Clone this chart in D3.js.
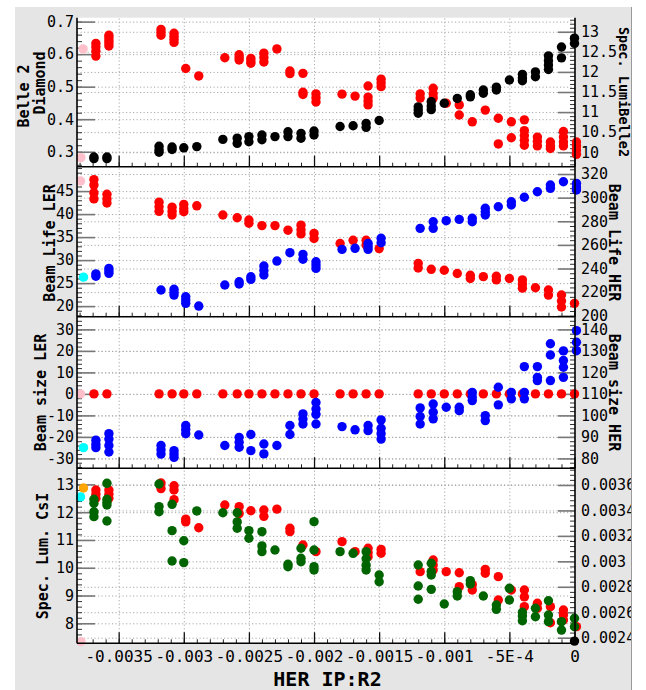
<!DOCTYPE html>
<html>
<head>
<meta charset="utf-8">
<script src="https://cdn.jsdelivr.net/npm/d3@7/dist/d3.min.js"></script>
<style>
  html, body { margin: 0; padding: 0; background: #ffffff; }
  svg { display: block; }
</style>
</head>
<body>
<svg id="chart" width="646" height="690"></svg>
<script>
// ---------------- data ----------------
// HER IP:R2 sample positions (two readouts, slightly offset)
const herPosA = [-0.00369, -0.00359, -0.00319, -0.00309, -0.00300, -0.00290, -0.00270, -0.00259,
  -0.00250, -0.00240, -0.00230, -0.00220, -0.00210, -0.00200, -0.00180, -0.00170, -0.00160,
  -0.00150, -0.00120, -0.00110, -0.00100, -0.00090, -0.00080, -0.00070, -0.00060, -0.00050,
  -0.00040, -0.00030, -0.00020, -0.00010, 0];
const herPosB = [-0.003675, -0.003575, -0.003175, -0.003075, -0.002985, -0.002885, -0.002685, -0.002575,
  -0.002485, -0.002385, -0.002285, -0.002185, -0.002085, -0.001985, -0.001785, -0.001685, -0.001585,
  -0.001485, -0.001185, -0.001085, -0.000985, -0.000885, -0.000785, -0.000685, -0.000585, -0.000485,
  -0.000385, -0.000285, -0.000185, -0.000085, 0.000015];

const herTicks = [-0.0035, -0.003, -0.0025, -0.002, -0.0015, -0.001, -0.0005, 0];
const herTickLabels = ["-0.0035", "-0.003", "-0.0025", "-0.002", "-0.0015", "-0.001", "-5E-4", "0"];

// Belle 2 Diamond (left) / Spec. LumiBelle2 (right)
const diamondVals = [
  [0.633, 0.622, 0.609, 0.594], [0.658, 0.650, 0.642, 0.634, 0.625], [0.676, 0.667, 0.658],
  [0.664, 0.655, 0.646, 0.636], [0.556], [0.533], [0.589], [0.598, 0.590, 0.582], [0.587, 0.579, 0.572],
  [0.603, 0.590, 0.576], [0.616], [0.548, 0.540], [0.541, 0.483, 0.476], [0.478, 0.466, 0.453],
  [0.477], [0.471], [0.502, 0.468, 0.456, 0.444], [0.523, 0.512, 0.500], [0.478, 0.465],
  [0.495, 0.478, 0.465], [0.449], [0.444, 0.413], [0.392], [0.428], [0.403, 0.324], [0.392, 0.343],
  [0.398, 0.365, 0.350, 0.335, 0.320], [0.345, 0.332, 0.318], [0.330, 0.318, 0.310],
  [0.362, 0.345, 0.330, 0.318], [0.330, 0.318, 0.305, 0.292]];
const lumiBelle2Vals = [
  [9.88, 9.84], [9.88, 9.84], [10.15, 10.06, 10.0], [10.13, 10.07], [10.11], [10.14], [10.32],
  [10.35, 10.22], [10.39, 10.26], [10.43, 10.31], [10.39], [10.51, 10.39], [10.47, 10.35],
  [10.53, 10.43], [10.64], [10.66], [10.72, 10.62], [10.79], [11.13, 11.05, 10.97],
  [11.26, 11.15, 11.06], [11.22], [11.34], [11.43, 11.38], [11.55, 11.47], [11.62, 11.55], [11.80],
  [11.94, 11.85, 11.78], [12.0, 11.88], [12.40, 12.28, 12.17, 12.06], [12.62, 12.35], [12.84, 12.71]];

// Beam Life LER (left) / Beam Life HER (right)
const lifeLerVals = [
  [47.5, 46.3, 44.6, 43.3], [44.3, 43.3, 42.4], [42.6, 41.6, 40.6], [41.5, 40.6, 39.8],
  [42.1, 41.2, 40.5], [41.8], [39.8], [39.2], [38.7, 38.0], [37.5], [37.5], [36.5],
  [37.6, 36.6, 35.7], [35.8, 34.7], [33.6], [34.3], [34.3, 33.3], [32.5], [29.3, 28.3], [28.0],
  [27.8], [27.1], [26.7, 26.0], [26.4], [26.5, 25.7], [26.0], [25.7, 24.8, 23.9], [24.0],
  [23.5, 22.4], [22.4, 21.1, 19.8], [20.6]];
const lifeHerVals = [
  [235.5, 233.5], [240.1, 238.0, 235.9], [221.8], [222.4, 219.9, 217.5], [216.1, 213.3, 210.5],
  [208.2], [226.0], [228.8, 226.9], [233.0, 230.8], [242.1, 238.3, 234.5], [246.3], [253.4],
  [252.0, 247.8], [245.7, 243.0, 240.1], [256.2], [257.1], [261.3, 258.7, 256.2], [265.6, 261.8],
  [274.0], [279.6, 274.0], [280.5], [281.6], [282.5, 279.6], [291.0, 288.0, 285.3], [292.3],
  [296.5, 293.8], [300.3], [305.0], [310.7, 307.9], [313.5], [312.1, 309.0, 306.5]];

// Beam size LER (left) / Beam size HER (right)
const sizeLerVals = [
  [0], [0], [0], [0], [0], [0], [0], [0], [0], [0], [0], [0], [0], [0], [0], [0], [0], [0],
  [0], [0], [0], [0], [0], [0], [0], [0], [0], [0], [0], [0], [0]];
const sizeHerVals = [
  [88.5, 86.5, 85.0], [91.5, 89.0, 86.0, 83.0], [86.0, 84.0, 82.0], [83.6, 82.0, 80.5],
  [95.3, 93.5, 91.5], [90.9], [86.0], [89.8, 87.5, 85.2], [91.1, 83.6], [86.7, 82.1], [86.0],
  [95.3, 91.1], [100.7, 98.3, 96.0], [106.0, 103.0, 100.5, 96.0], [94.8], [93.3], [95.3, 92.9],
  [97.9, 94.0, 91.5, 89.0], [103.5, 99.5, 96.0], [105.3, 101.5, 98.4], [103.8], [103.8, 102.2],
  [110.7, 108.5, 106.9], [99.9, 97.6], [113.1, 104.9], [110.7, 107.7], [122.7, 110.7, 107.7],
  [122.7, 117.7, 116.2], [133.3, 128.1, 116.2], [130.0, 125.5, 122.4, 117.7], [139.4, 134.0, 130.1]];

// Spec. Lum. CsI (left) / right-hand CsI ratio
const csiLeftVals = [
  [12.8, 12.65, 12.5], [12.8, 12.65, 12.5], [13.05, 12.85], [12.95, 12.8, 12.45], [11.75, 11.65],
  [11.44], [12.26], [12.2, 11.95], [12.05], [12.08, 11.85], [12.11], [11.42, 11.3], [10.82],
  [10.58], [10.94], [10.58], [10.7, 10.55, 10.4], [10.66, 10.52], [9.86], [10.28, 10.1, 9.92],
  [9.86], [9.82, 9.32], [9.39, 9.2], [9.94, 9.8], [9.68, 8.84], [9.2], [9.2, 8.95, 8.6],
  [8.72, 8.54], [8.6, 8.02], [8.48, 8.3, 8.12], [7.88]];
const csiRightVals = [
  [0.003488, 0.003456, 0.00339, 0.003351], [0.003613, 0.003488, 0.003465, 0.003443, 0.003317],
  [0.003608, 0.00343, 0.00339], [0.003448, 0.003241, 0.003003], [0.003162, 0.00299], [0.003396],
  [0.003382], [0.003382, 0.00331, 0.00326], [0.003241, 0.003181], [0.003233, 0.003121, 0.003076],
  [0.003089], [0.002977, 0.002958], [0.003103, 0.003024, 0.002997],
  [0.003312, 0.003089, 0.002958, 0.002932], [0.003076], [0.003063],
  [0.003076, 0.00302, 0.00297, 0.002932], [0.002893, 0.00284], [0.002971, 0.002806, 0.002702],
  [0.002985, 0.00292, 0.002893, 0.00278], [0.002665], [0.002762, 0.002728], [0.002848, 0.002822],
  [0.002728], [0.002657, 0.002623], [0.002788, 0.002696], [0.0026, 0.00257, 0.002533],
  [0.002631, 0.002565], [0.00269, 0.002578, 0.002526], [0.002526, 0.00246], [0.002553, 0.002486]];

// latest-sample markers, per panel, in left-axis units
const latestX = [[-0.003773, -0.00379], [-0.003793, -0.00377], [-0.003793, -0.00377],
  [-0.00377, -0.003793, -0.00379, 0]];
const latestY = [[0.616, 0.282], [47.2, 26.3], [0, -25], [12.87, 12.55, 7.34, 7.36]];

// axis ticks
const diamondTicks = [0.3, 0.4, 0.5, 0.6, 0.7];
const lumiTicks = [10, 10.5, 11, 11.5, 12, 12.5, 13];
const lifeLerTicks = [20, 25, 30, 35, 40, 45];
const lifeHerTicks = [200, 220, 240, 260, 280, 300, 320];
const sizeLerTicks = [-30, -20, -10, 0, 10, 20, 30];
const sizeHerTicks = [80, 90, 100, 110, 120, 130, 140];
const csiLeftTicks = [8, 9, 10, 11, 12, 13];
const csiRightTicks = [0.0024, 0.0026, 0.0028, 0.003, 0.0032, 0.0034, 0.0036];

// ---------------- layout & style ----------------
const MONO = "'DejaVu Sans Mono', 'Liberation Mono', monospace";
const plotL = 77, plotR = 575;
const panelEdges = [17.7, 166.7, 316.7, 468.3, 643.3];
const latestColors = [["#ffc0cb", "#ffc0cb"], ["#ffc0cb", "#00ffff"], ["#ffc0cb", "#00ffff"],
  ["#ffa500", "#00ffff", "#ffc0cb", "#000000"]];

const panels = [
  { leftDomain: [0.254, 0.712], rightDomain: [9.64, 13.35],
    leftTicks: diamondTicks, leftMinor: 0.02, rightTicks: lumiTicks, rightMinor: 0.1,
    leftFmt: d3.format(".1f"),
    leftTitle: [{t: "Belle 2", x: 23.5, y: 96}, {t: "Diamond", x: 39.5, y: 83}],
    rightTitle: {t: "Spec. LumiBelle2", x: 624, y: 92, size: 13.5},
    left: {pos: herPosB, vals: diamondVals, color: "#ff0000"},
    right: {pos: herPosA, vals: lumiBelle2Vals, color: "#000000"} },
  { leftDomain: [17.7, 50.3], rightDomain: [199.2, 326.2],
    leftTicks: lifeLerTicks, leftMinor: 1, rightTicks: lifeHerTicks, rightMinor: 4,
    leftFmt: String,
    leftTitle: [{t: "Beam Life LER", x: 50, y: 243}],
    rightTitle: {t: "Beam Life HER", x: 614, y: 242.5, size: 15},
    left: {pos: herPosA, vals: lifeLerVals, color: "#ff0000"},
    right: {pos: herPosB, vals: lifeHerVals, color: "#0000ff"} },
  { leftDomain: [-34.6, 35.9], rightDomain: [75.4, 145.9],
    leftTicks: sizeLerTicks, leftMinor: 2, rightTicks: sizeHerTicks, rightMinor: 2,
    leftFmt: String,
    leftTitle: [{t: "Beam size LER", x: 41, y: 392.5}],
    rightTitle: {t: "Beam size HER", x: 614, y: 392.5, size: 15},
    left: {pos: herPosA, vals: sizeLerVals, color: "#ff0000"},
    right: {pos: herPosB, vals: sizeHerVals, color: "#0000ff"} },
  { leftDomain: [7.28, 13.58], rightDomain: [0.002356, 0.003731],
    leftTicks: csiLeftTicks, leftMinor: 0.2, rightTicks: csiRightTicks, rightMinor: 0.00004,
    leftFmt: String,
    leftTitle: [{t: "Spec. Lum. CsI", x: 43, y: 556}],
    rightTitle: null,
    left: {pos: herPosB, vals: csiLeftVals, color: "#ff0000"},
    right: {pos: herPosA, vals: csiRightVals, color: "#006400"} }
];

function stepValues(domain, step) {
  const lo = Math.ceil(Math.min(...domain) / step - 1e-6);
  const hi = Math.floor(Math.max(...domain) / step + 1e-6);
  return d3.range(lo, hi + 1).map(k => +(k * step).toPrecision(10));
}
function flatten(pos, vals) {
  const out = [];
  vals.forEach((arr, i) => arr.forEach(v => out.push({x: pos[i], y: v})));
  return out;
}

// ---------------- drawing ----------------
const svg = d3.select("#chart");
svg.append("defs").append("clipPath").attr("id", "winClip")
  .append("rect").attr("x", 0).attr("y", 0).attr("width", 631).attr("height", 690);

const root = svg.append("g").attr("clip-path", "url(#winClip)");
root.append("rect").attr("x", 15).attr("y", 7).attr("width", 616).attr("height", 683).attr("fill", "#e5e5e5");
root.append("rect").attr("x", plotL).attr("y", panelEdges[0])
  .attr("width", plotR - plotL).attr("height", panelEdges[4] - panelEdges[0]).attr("fill", "#ffffff");

const x = d3.scaleLinear().domain([-0.00382, 0]).range([77, 574.5]);
const xMinor = stepValues([-0.00382, 0], 0.0001);

function styleAxis(g, color, width) {
  g.select(".domain").remove();
  g.selectAll(".tick line").attr("stroke", color).attr("stroke-width", width);
  g.selectAll(".tick text").attr("font-family", MONO).attr("font-size", 15).attr("fill", "#000");
}

panels.forEach((p, k) => {
  const top = panelEdges[k], bottom = panelEdges[k + 1];
  const yL = d3.scaleLinear().domain(p.leftDomain).range([bottom, top]);
  const yR = d3.scaleLinear().domain(p.rightDomain).range([bottom, top]);
  const g = root.append("g");

  // dotted grid
  const grid = g.append("g").attr("class", "grid");
  grid.append("g").attr("transform", `translate(${plotL},0)`)
    .call(d3.axisRight(yL).tickValues(p.leftTicks).tickSize(plotR - plotL).tickFormat(""))
    .call(a => styleAxis(a, "#a8a8a8", 1));
  grid.append("g").attr("transform", `translate(${plotL},0)`)
    .call(d3.axisRight(yR).tickValues(p.rightTicks).tickSize(plotR - plotL).tickFormat(""))
    .call(a => styleAxis(a, "#a8a8a8", 1));
  grid.append("g").attr("transform", `translate(0,${bottom})`)
    .call(d3.axisBottom(x).tickValues(herTicks.slice(0, -1)).tickSize(-(bottom - top)).tickFormat(""))
    .call(a => styleAxis(a, "#a8a8a8", 1));
  grid.selectAll("line").attr("stroke-dasharray", "1.2,2.3");

  // left axis ticks + labels
  g.append("g").attr("transform", `translate(${plotL},0)`)
    .call(d3.axisLeft(yL).tickValues(stepValues(p.leftDomain, p.leftMinor)).tickSize(-5).tickFormat(""))
    .call(a => styleAxis(a, "#333", 1));
  g.append("g").attr("transform", `translate(${plotL},0)`)
    .call(d3.axisLeft(yL).tickValues(p.leftTicks).tickSizeInner(-18).tickSizeOuter(0)
      .tickPadding(3).tickFormat(p.leftFmt))
    .call(a => styleAxis(a, "#777", 1.6));

  // right axis ticks + labels
  g.append("g").attr("transform", `translate(${plotR},0)`)
    .call(d3.axisRight(yR).tickValues(stepValues(p.rightDomain, p.rightMinor)).tickSize(-5).tickFormat(""))
    .call(a => styleAxis(a, "#333", 1));
  g.append("g").attr("transform", `translate(${plotR},0)`)
    .call(d3.axisRight(yR).tickValues(p.rightTicks).tickSizeInner(-17).tickSizeOuter(0)
      .tickPadding(6).tickFormat(String))
    .call(a => styleAxis(a, "#777", 1.6));

  // bottom ticks
  g.append("g").attr("transform", `translate(0,${bottom})`)
    .call(d3.axisBottom(x).tickValues(xMinor).tickSize(-4).tickFormat(""))
    .call(a => styleAxis(a, "#222", 1));
  const bx = g.append("g").attr("transform", `translate(0,${bottom})`)
    .call(d3.axisBottom(x).tickValues(herTicks).tickSizeInner(-11).tickSizeOuter(0).tickPadding(7)
      .tickFormat((d, i) => k === panels.length - 1 ? herTickLabels[i] : ""))
    .call(a => styleAxis(a, "#111", 1.3));
  bx.selectAll(".tick text").attr("font-size", 16);

  // markers: left series first, right series on top
  [[p.left, yL], [p.right, yR]].forEach(([s, y]) => {
    g.append("g").selectAll("circle").data(flatten(s.pos, s.vals)).join("circle")
      .attr("cx", d => x(d.x)).attr("cy", d => y(d.y)).attr("r", 4.7)
      .attr("fill", s.color);
  });
  g.append("g").selectAll("circle")
    .data(latestX[k].map((xv, i) => ({x: xv, y: latestY[k][i], c: latestColors[k][i]})))
    .join("circle")
    .attr("cx", d => x(d.x)).attr("cy", d => yL(d.y)).attr("r", 4.7).attr("fill", d => d.c);

  // titles
  p.leftTitle.forEach(t => {
    g.append("text").attr("transform", `translate(${t.x},${t.y}) rotate(-90)`)
      .attr("text-anchor", "middle").attr("dy", "0.36em")
      .attr("font-family", MONO).attr("font-weight", "bold").attr("font-size", 15)
      .text(t.t);
  });
  if (p.rightTitle) {
    const t = p.rightTitle;
    g.append("text").attr("transform", `translate(${t.x},${t.y}) rotate(90)`)
      .attr("text-anchor", "middle").attr("dy", "0.36em")
      .attr("font-family", MONO).attr("font-weight", "bold").attr("font-size", t.size)
      .text(t.t);
  }
});

// frame lines
const frame = root.append("g").attr("stroke", "#000").attr("stroke-width", 1.6);
frame.append("line").attr("x1", plotL).attr("x2", plotL).attr("y1", panelEdges[0]).attr("y2", panelEdges[4]);
frame.append("line").attr("x1", plotR).attr("x2", plotR).attr("y1", panelEdges[0]).attr("y2", panelEdges[4]);
frame.selectAll("line.h").data(panelEdges.slice(1)).join("line").attr("class", "h")
  .attr("x1", plotL).attr("x2", plotR).attr("y1", d => d).attr("y2", d => d);

// axis title
root.append("text").attr("x", 327.5).attr("y", 686)
  .attr("text-anchor", "middle").attr("font-family", MONO).attr("font-weight", "bold")
  .attr("font-size", 20).text("HER IP:R2");

// window edge
svg.append("line").attr("x1", 631.5).attr("x2", 631.5).attr("y1", 7).attr("y2", 690)
  .attr("stroke", "#9a9a9a").attr("stroke-width", 1);
</script>
</body>
</html>
